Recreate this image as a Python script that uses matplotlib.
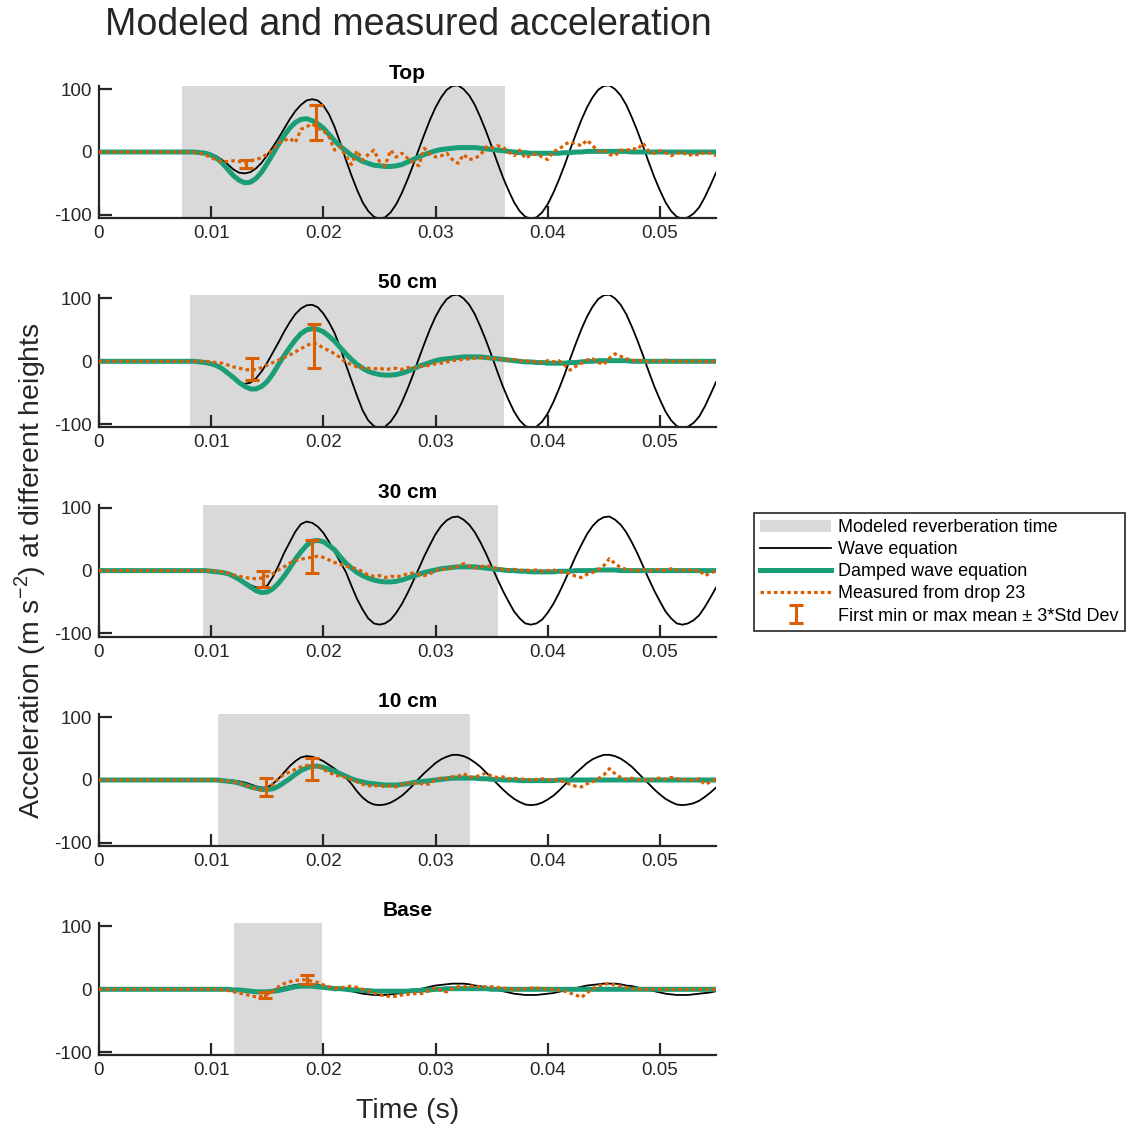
import matplotlib
matplotlib.use("Agg")
import matplotlib.pyplot as plt
import numpy as np

plt.rcParams['font.family'] = ['Liberation Sans', 'DejaVu Sans']
plt.rcParams['mathtext.fontset'] = 'custom'
plt.rcParams['mathtext.rm'] = 'Liberation Sans'
plt.rcParams['axes.unicode_minus'] = False

# ---- data ----
panel_names = ['Top', '50 cm', '30 cm', '10 cm', 'Base']

# every series is sampled every 0.5 ms from 0 to 55 ms (111 samples),
# one row of 10 values per 5 ms
t = np.arange(111) * 0.0005

wave_top = [0, 0, 0, 0, 0, 0, 0, 0, 0, 0,
            0, 0, 0, 0, 0, 0, 0, 0, 0, -1,
            -3, -7, -13, -20, -28, -33, -34, -32, -26, -17,
            -5, 8, 22, 37, 52, 65, 75, 82, 84, 82,
            74, 60, 40, 15, -12, -37, -60, -80, -94, -103,
            -106, -104, -96, -83, -65, -44, -21, 4, 28, 51,
            71, 87, 99, 105, 106, 100, 90, 75, 55, 33,
            9, -16, -40, -61, -80, -94, -103, -106, -104, -96,
            -83, -65, -44, -21, 4, 28, 51, 71, 87, 99,
            105, 106, 100, 90, 75, 55, 33, 9, -16, -40,
            -61, -80, -94, -103, -106, -104, -98, -88, -72, -53,
            -33]
wave_50 = [0, 0, 0, 0, 0, 0, 0, 0, 0, 0,
           0, 0, 0, 0, 0, 0, 0, 0, 0, -1,
           -3, -7, -12, -19, -27, -33, -36, -34, -27, -16,
           -2, 14, 30, 47, 62, 75, 84, 89, 90, 86,
           76, 62, 45, 22, -5, -30, -55, -78, -94, -103,
           -106, -104, -96, -83, -65, -44, -21, 4, 28, 51,
           71, 87, 99, 105, 106, 100, 90, 75, 55, 33,
           9, -16, -40, -61, -80, -94, -103, -106, -104, -96,
           -83, -65, -44, -21, 4, 28, 51, 71, 87, 99,
           105, 106, 100, 90, 75, 55, 33, 9, -16, -40,
           -61, -80, -94, -103, -106, -104, -98, -88, -72, -53,
           -33]
wave_30 = [0, 0, 0, 0, 0, 0, 0, 0, 0, 0,
           0, 0, 0, 0, 0, 0, 0, 0, 0, 0,
           0, -1, -2, -5, -8, -13, -18, -23, -27, -28,
           -24, -10, 8, 28, 45, 62, 74, 78, 76, 70,
           60, 46, 30, 14, -2, -24, -45, -62, -76, -84,
           -86, -84, -78, -67, -53, -36, -17, 3, 23, 41,
           58, 71, 80, 85, 86, 81, 73, 61, 45, 27,
           7, -13, -32, -49, -65, -76, -84, -86, -84, -78,
           -67, -53, -36, -17, 3, 23, 41, 58, 71, 80,
           85, 86, 81, 73, 61, 45, 27, 7, -13, -32,
           -49, -65, -76, -84, -86, -84, -79, -71, -58, -43,
           -27]
wave_10 = [0, 0, 0, 0, 0, 0, 0, 0, 0, 0,
           0, 0, 0, 0, 0, 0, 0, 0, 0, 0,
           0, 0, 0, 0, -1, -2, -4, -7, -10, -12,
           -12, -6, 2, 12, 22, 30, 36, 38, 37, 34,
           30, 24, 18, 11, 4, -6, -18, -28, -35, -39,
           -40, -39, -36, -31, -25, -17, -8, 2, 11, 19,
           27, 33, 37, 40, 40, 38, 34, 28, 21, 12,
           3, -6, -15, -23, -30, -35, -39, -40, -39, -36,
           -31, -25, -17, -8, 2, 11, 19, 27, 33, 37,
           40, 40, 38, 34, 28, 21, 12, 3, -6, -15,
           -23, -30, -35, -39, -40, -39, -37, -33, -27, -20,
           -12]
wave_base = [0, 0, 0, 0, 0, 0, 0, 0, 0, 0,
             0, 0, 0, 0, 0, 0, 0, 0, 0, 0,
             0, 0, 0, 0, 0, 0, -1, -2, -3, -3,
             -3, -1, 1, 3, 5, 7, 8, 8, 8, 7,
             5, 3, 2, 0, -1, -3, -5, -7, -8, -9,
             -9, -9, -8, -7, -6, -4, -2, 0, 2, 4,
             6, 7, 8, 9, 9, 9, 8, 6, 5, 3,
             1, -1, -3, -5, -7, -8, -9, -9, -9, -8,
             -7, -6, -4, -2, 0, 2, 4, 6, 7, 8,
             9, 9, 9, 8, 6, 5, 3, 1, -1, -3,
             -5, -7, -8, -9, -9, -9, -8, -7, -6, -5,
             -3]

damped_top = [0, 0, 0, 0, 0, 0, 0, 0, 0, 0,
              0, 0, 0, 0, 0, 0, 0, 0, -1, -2,
              -5, -10, -18, -28, -38, -45, -49, -48, -42, -32,
              -18, -3, 12, 26, 38, 47, 52, 53, 50, 45,
              38, 28, 18, 9, 2, -5, -10, -15, -18, -21,
              -22, -23, -23, -22, -20, -16, -12, -8, -4, -1,
              2, 4, 5, 6, 7, 7, 7, 7, 6, 5,
              4, 3, 2, 1, 0, -1, -1, -2, -2, -2,
              -2, -2, -2, -1, -1, 0, 0, 1, 1, 1,
              1, 1, 1, 1, 1, 0, 0, 0, 0, 0,
              0, 0, 0, 0, 0, 0, 0, 0, 0, 0,
              0]
damped_50 = [0, 0, 0, 0, 0, 0, 0, 0, 0, 0,
             0, 0, 0, 0, 0, 0, 0, 0, -1, -2,
             -4, -7, -12, -19, -26, -34, -40, -44, -44, -40,
             -32, -20, -5, 9, 22, 34, 44, 50, 52, 51,
             47, 40, 32, 22, 12, 3, -5, -11, -16, -19,
             -21, -22, -22, -21, -19, -16, -12, -8, -5, -2,
             1, 3, 4, 5, 6, 7, 7, 7, 7, 6,
             5, 4, 3, 2, 1, 0, -1, -1, -2, -2,
             -3, -3, -3, -3, -2, -2, -1, 0, 0, 1,
             1, 1, 1, 1, 1, 0, 0, 0, 0, 0,
             0, 0, 0, 0, 0, 0, 0, 0, 0, 0,
             0]
damped_30 = [0, 0, 0, 0, 0, 0, 0, 0, 0, 0,
             0, 0, 0, 0, 0, 0, 0, 0, 0, 0,
             -1, -2, -3, -5, -9, -14, -20, -26, -32, -35,
             -34, -29, -20, -9, 4, 18, 30, 40, 47, 48,
             46, 40, 33, 22, 12, 4, -3, -8, -12, -15,
             -17, -18, -18, -17, -15, -12, -9, -6, -3, -1,
             1, 3, 4, 5, 6, 6, 6, 6, 5, 4,
             3, 2, 1, 0, 0, -1, -1, -2, -2, -2,
             -2, -2, -1, -1, -1, 0, 0, 0, 0, 1,
             1, 1, 1, 0, 0, 0, 0, 0, 0, 0,
             0, 0, 0, 0, 0, 0, 0, 0, 0, 0,
             0]
damped_10 = [0, 0, 0, 0, 0, 0, 0, 0, 0, 0,
             0, 0, 0, 0, 0, 0, 0, 0, 0, 0,
             0, 0, -1, -2, -3, -5, -8, -11, -13, -15,
             -15, -14, -10, -4, 2, 9, 15, 19, 22, 22,
             20, 17, 14, 10, 6, 2, -1, -3, -5, -6,
             -7, -8, -8, -8, -7, -6, -4, -3, -2, -1,
             0, 1, 2, 3, 3, 3, 3, 3, 2, 2,
             1, 1, 0, 0, 0, -1, -1, -1, -1, -1,
             -1, -1, 0, 0, 0, 0, 0, 0, 0, 0,
             0, 0, 0, 0, 0, 0, 0, 0, 0, 0,
             0, 0, 0, 0, 0, 0, 0, 0, 0, 0,
             0]
damped_base = [0, 0, 0, 0, 0, 0, 0, 0, 0, 0,
               0, 0, 0, 0, 0, 0, 0, 0, 0, 0,
               0, 0, 0, 0, -1, -1, -2, -3, -4, -4,
               -4, -3, -2, 0, 2, 4, 5, 5, 5, 4,
               3, 2, 1, 1, 0, -1, -1, -2, -2, -3,
               -3, -3, -3, -3, -3, -3, -2, -2, -1, -1,
               0, 0, 1, 1, 1, 1, 1, 1, 1, 1,
               0, 0, 0, 0, 0, 0, 0, 0, 0, 0,
               0, 0, 0, 0, 0, 0, 0, 0, 0, 0,
               0, 0, 0, 0, 0, 0, 0, 0, 0, 0,
               0, 0, 0, 0, 0, 0, 0, 0, 0, 0,
               0]

# measured traces (first 18 samples flat, then from 9 ms on)
meas_top = [0, 0, 0, 0, 0, 0, 0, 0, 0, 0,
            0, 0, 0, 0, 0, 0, 0, 0,
            -2, -5, -9, -13, -16, -15, -14, -15, -17, -14,
            -12, -9, -3, 3, 14, 18, 22, 15, 36, 40,
            45, 38, 34, 24, 3, 8, -6, -20, 2, -13,
            -4, 3, -15, -22, 3, -8, -2, -10, -16, -22,
            6, -3, -8, -6, -2, -12, -18, -4, -12, -10,
            -5, 8, 6, 10, 8, 0, -6, 3, -10, -5,
            -3, -8, -12, 1, 4, 12, 16, 13, 10, 19,
            10, 1, 3, -4, -6, 3, 2, 6, 4, 14,
            1, -2, 2, -1, -6, -2, 0, -6, -3, -5,
            0, -2, -6]
meas_50 = [0, 0, 0, 0, 0, 0, 0, 0, 0, 0,
           0, 0, 0, 0, 0, 0, 0, 0,
           0, 0, -1, -2, -3, -6, -9, -11, -13, -14,
           -13, -10, -6, -2, 2, 6, 10, 15, 20, 25,
           29, 27, 21, 17, 12, 6, -2, -5, -9, -10,
           -11, -12, -11, -13, -12, -11, -13, -10, -11, -8,
           -8, -6, -4, -3, -1, 1, 2, 3, 4, 5,
           6, 5, 5, 4, 3, 2, 3, 1, 1, -1,
           0, -2, 1, -1, 1, -6, -14, -8, -3, 2,
           4, -2, -5, 5, 12, 8, 4, 2, 0, 2,
           -1, 1, 0, 2, -1, 1, 0, -1, 1, 0,
           -1, 1, -2]
meas_30 = [0, 0, 0, 0, 0, 0, 0, 0, 0, 0,
           0, 0, 0, 0, 0, 0, 0, 0,
           0, 0, 0, -1, -2, -4, -7, -9, -11, -12,
           -13, -12, -9, -5, 1, 6, 12, 16, 18, 20,
           21, 23, 21, 17, 13, 10, 7, 5, 3, -2,
           -7, -9, -8, -11, -9, -10, -8, -5, -4, -6,
           -8, -5, 0, 2, 3, 4, 7, 11, 7, 4,
           6, 8, 6, 3, 2, 1, 2, 0, 1, 0,
           1, -1, 0, 1, -1, -3, -5, -9, -11, -6,
           -3, 1, 8, 19, 11, 5, 2, 1, 0, 2,
           -1, 1, 2, 0, 3, 1, 0, 2, -1, 1,
           -8, -4, 0]
meas_10 = [0, 0, 0, 0, 0, 0, 0, 0, 0, 0,
           0, 0, 0, 0, 0, 0, 0, 0,
           0, 0, 0, 0, -1, -2, -3, -5, -8, -11,
           -14, -16, -14, -7, 2, 9, 13, 17, 21, 23,
           24, 22, 17, 12, 8, 6, 4, 1, -3, -7,
           -9, -10, -8, -11, -9, -11, -7, -5, -6, -4,
           -8, -6, 1, 3, 2, 5, 6, 10, 5, 4,
           8, 11, 6, 4, 5, 2, 3, 1, 2, 0,
           1, 2, 0, 1, -1, -3, -7, -10, -11, -6,
           -3, 2, 8, 18, 10, 4, 1, 3, 0, 1,
           -1, 2, 3, 1, 4, 2, 0, 1, -1, 2,
           -7, -3, 1]
meas_base = [0, 0, 0, 0, 0, 0, 0, 0, 0, 0,
             0, 0, 0, 0, 0, 0, 0, 0,
             0, 0, 0, 0, -1, -2, -4, -6, -8, -10,
             -12, -11, -8, -3, 4, 9, 12, 14, 15, 15,
             13, 11, 7, 4, 2, 2, 4, 5, 3, 0,
             -3, -6, -9, -10, -12, -11, -9, -8, -7, -7,
             -6, -1, 3, -2, -4, 1, 4, 4, 5, 5,
             4, 4, 4, 3, 2, 1, -1, 0, 1, 2,
             2, 1, 0, 0, -1, -3, -6, -9, -13, -6,
             1, 5, 8, 9, 7, 5, 3, 1, 0, 0,
             0, 0, 0, 0, 0, 0, 0, 0, 0, 0,
             0, 0, 0]

# modeled reverberation time window per panel (s)
reverb_start = [0.0074, 0.0081, 0.0093, 0.0106, 0.0120]
reverb_end = [0.0362, 0.0361, 0.0356, 0.0331, 0.0199]

# first min / first max: mean +/- 3*std
err_t_min = [0.0131, 0.0136, 0.0146, 0.0149, 0.0148]
err_mean_min = [-19.5, -12.5, -13.5, -11, -9]
err_sd_min = [6.5, 17.5, 12.5, 14, 5]
err_t_max = [0.0193, 0.0192, 0.0190, 0.0190, 0.0185]
err_mean_max = [47, 24.5, 22.5, 17.5, 15.5]
err_sd_max = [28.5, 34.5, 26.5, 17.5, 7]

wave_all = [wave_top, wave_50, wave_30, wave_10, wave_base]
damped_all = [damped_top, damped_50, damped_30, damped_10, damped_base]
meas_all = [meas_top, meas_50, meas_30, meas_10, meas_base]

xticks = [0, 0.01, 0.02, 0.03, 0.04, 0.05]
xtick_labels = ['0', '0.01', '0.02', '0.03', '0.04', '0.05']
yticks = [-100, 0, 100]

c_gray = '#d9d9d9'
c_green = '#1b9e77'
c_orange = '#d95f02'
c_axis = '#262626'

fig = plt.figure(figsize=(11.26, 11.29), dpi=100)

ax_left = 99 / 1126
ax_width = (716 - 99) / 1126
ax_height = 132 / 1129
zero_rows = [152, 361.3, 570.6, 780, 989.3]

handles = None
for i, name in enumerate(panel_names):
    bottom = 1 - (zero_rows[i] + 66) / 1129
    ax = fig.add_axes([ax_left, bottom, ax_width, ax_height])

    span = ax.axvspan(reverb_start[i], reverb_end[i], color=c_gray, lw=0, zorder=0)
    wave_line, = ax.plot(t, wave_all[i], color='black', lw=1.3, zorder=2)
    damp_line, = ax.plot(t, damped_all[i], color=c_green, lw=3.6, zorder=3)
    meas_line, = ax.plot(t, meas_all[i], color=c_orange, lw=2.3,
                         linestyle=(0, (1.1, 1.0)), zorder=4)
    err = ax.errorbar([err_t_min[i], err_t_max[i]],
                      [err_mean_min[i], err_mean_max[i]],
                      yerr=[err_sd_min[i], err_sd_max[i]],
                      fmt='none', ecolor=c_orange, elinewidth=2.2,
                      capsize=5, capthick=2.2, zorder=5)

    ax.set_xlim(0, 0.055)
    ax.set_ylim(-105, 105)
    ax.set_xticks(xticks)
    ax.set_xticklabels(xtick_labels)
    ax.set_yticks(yticks)
    for side in ['top', 'right']:
        ax.spines[side].set_visible(False)
    for side in ['left', 'bottom']:
        ax.spines[side].set_color(c_axis)
        ax.spines[side].set_linewidth(1.6)
    ax.tick_params(direction='in', length=9, width=1.6, color=c_axis,
                   labelcolor=c_axis, labelsize=13.5, pad=5)
    ax.set_title(name, fontsize=15, fontweight='bold', pad=5)

    if handles is None:
        handles = [span, wave_line, damp_line, meas_line, err]

labels = ['Modeled reverberation time', 'Wave equation', 'Damped wave equation',
          'Measured from drop 23', 'First min or max mean \u00b1 3*Std Dev']
leg = fig.legend(handles, labels, loc='upper left',
                 bbox_to_anchor=(754 / 1126, 1 - 513 / 1129),
                 fontsize=13, frameon=True, fancybox=False, framealpha=1,
                 edgecolor=c_axis, handlelength=3.9, handletextpad=0.4,
                 borderpad=0.35, labelspacing=0.28, borderaxespad=0)
leg.get_frame().set_linewidth(1.2)

fig.text(408 / 1126, 1 - 25 / 1129, 'Modeled and measured acceleration',
         ha='center', va='center', fontsize=27, color=c_axis)
fig.text(30 / 1126, 1 - 571 / 1129,
         r'Acceleration (m s$^{\mathregular{-2}}$) at different heights',
         ha='center', va='center', rotation=90, fontsize=20.5, color=c_axis)
fig.text(408 / 1126, 1 - 1111 / 1129, 'Time (s)',
         ha='center', va='center', fontsize=20.5, color=c_axis)

fig.savefig('out.png', dpi=100)
